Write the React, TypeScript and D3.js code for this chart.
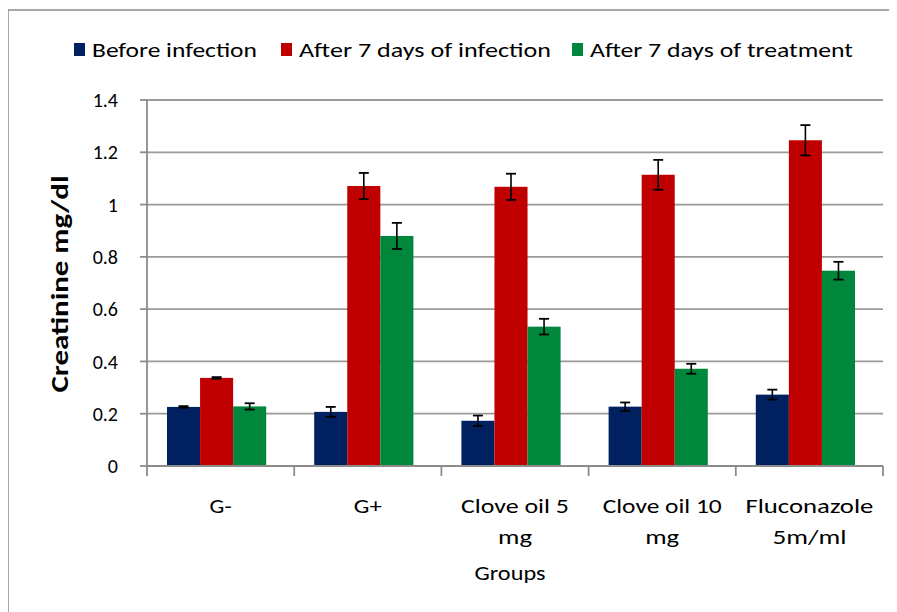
import React, { useEffect, useRef } from 'react';
import * as d3 from 'd3';

const groups = ['G-', 'G+', 'Clove oil 5 mg', 'Clove oil 10 mg', 'Fluconazole 5m/ml'];
const groupLines = [['G-'], ['G+'], ['Clove oil 5', 'mg'], ['Clove oil 10', 'mg'], ['Fluconazole', '5m/ml']];
const seriesNames = ['Before infection', 'After 7 days of infection', 'After 7 days of treatment'];
const seriesColors = ['#002060', '#C00000', '#00873C'];

const beforeVals = [0.226, 0.207, 0.173, 0.227, 0.273];
const beforeErr = [0.003, 0.019, 0.02, 0.016, 0.019];
const infectVals = [0.337, 1.071, 1.068, 1.114, 1.246];
const infectErr = [0.003, 0.05, 0.05, 0.057, 0.058];
const treatVals = [0.228, 0.88, 0.533, 0.372, 0.747];
const treatErr = [0.012, 0.05, 0.03, 0.019, 0.034];

const yTicks = [0, 0.2, 0.4, 0.6, 0.8, 1, 1.2, 1.4];

// measured text widths in the picture (its font is a wide, blurry Calibri)
const labelWidths: Record<string, number> = {
  'G-': 22, 'G+': 28, 'Clove oil 5': 108, 'Clove oil 10': 119, 'Fluconazole': 128,
  'mg': 34, '5m/ml': 74,
};
const legendWidths = [165, 252, 263];
const legendX = [74, 281, 572];

const FONT = "Carlito, 'Liberation Sans Narrow', 'Open Sans', sans-serif";

export default function App() {
  const svgRef = useRef<SVGSVGElement>(null);

  useEffect(() => {
    if (!svgRef.current) return;
    const svg = d3.select(svgRef.current);
    svg.selectAll('*').remove();

    const W = 897, H = 612;
    const margin = { top: 100, right: 14, bottom: 146, left: 147 };
    const innerW = W - margin.left - margin.right;
    const innerH = H - margin.top - margin.bottom;

    svg.append('rect').attr('width', W).attr('height', H).attr('fill', '#fff');
    // outer frame
    svg.append('path').attr('d', `M8,${H} L8,10 L${W},10`)
      .attr('fill', 'none').attr('stroke', '#8c8c8c').attr('stroke-width', 1.5);

    const x = d3.scaleBand().domain(groups).range([0, innerW]).paddingInner(0).paddingOuter(0);
    const inner = d3.scaleBand().domain(seriesNames).range([20, x.bandwidth() - 28]);
    const y = d3.scaleLinear().domain([0, 1.4]).range([innerH, 0]);

    const g = svg.append('g').attr('transform', `translate(${margin.left},${margin.top})`);

    // gridlines
    g.append('g').selectAll('line').data(yTicks.slice(1)).join('line')
      .attr('x1', 0).attr('x2', innerW)
      .attr('y1', d => y(d)).attr('y2', d => y(d))
      .attr('stroke', '#9a9a9a').attr('stroke-width', 1.8);

    const series = [
      { vals: beforeVals, err: beforeErr },
      { vals: infectVals, err: infectErr },
      { vals: treatVals, err: treatErr },
    ];

    series.forEach((s, si) => {
      const sg = g.append('g');
      const data = groups.map((grp, i) => ({ grp, v: s.vals[i], e: s.err[i] }));
      sg.selectAll('rect').data(data).join('rect')
        .attr('x', d => x(d.grp)! + inner(seriesNames[si])!)
        .attr('width', inner.bandwidth())
        .attr('y', d => y(d.v))
        .attr('height', d => innerH - y(d.v))
        .attr('fill', seriesColors[si]);
      const eb = sg.selectAll('g.eb').data(data).join('g').attr('class', 'eb')
        .attr('transform', d => `translate(${x(d.grp)! + inner(seriesNames[si])! + inner.bandwidth() / 2},0)`);
      eb.append('line').attr('x1', 0).attr('x2', 0)
        .attr('y1', d => y(d.v + d.e)).attr('y2', d => y(d.v - d.e))
        .attr('stroke', '#000').attr('stroke-width', 1.6);
      [1, -1].forEach(sign => {
        eb.append('line').attr('x1', -5).attr('x2', 5)
          .attr('y1', d => y(d.v + sign * d.e)).attr('y2', d => y(d.v + sign * d.e))
          .attr('stroke', '#000').attr('stroke-width', 1.8);
      });
    });

    // axes lines
    const axisColor = '#8c8c8c';
    g.append('line').attr('x1', 0).attr('x2', 0).attr('y1', 0).attr('y2', innerH)
      .attr('stroke', axisColor).attr('stroke-width', 1.8);
    g.append('line').attr('x1', 0).attr('x2', innerW).attr('y1', innerH).attr('y2', innerH)
      .attr('stroke', axisColor).attr('stroke-width', 2);
    // x ticks at band boundaries
    const bounds = groups.map(grp => x(grp)!).concat([innerW]);
    g.append('g').selectAll('line').data(bounds).join('line')
      .attr('x1', d => d).attr('x2', d => d).attr('y1', innerH).attr('y2', innerH + 10)
      .attr('stroke', axisColor).attr('stroke-width', 1.8);
    // y ticks
    g.append('g').selectAll('line').data(yTicks).join('line')
      .attr('x1', -7).attr('x2', 0).attr('y1', d => y(d)).attr('y2', d => y(d))
      .attr('stroke', axisColor).attr('stroke-width', 1.8);
    g.append('g').selectAll('text').data(yTicks).join('text')
      .attr('x', -29).attr('y', d => y(d)).attr('dy', '0.36em')
      .attr('text-anchor', 'end')
      .attr('font-family', FONT).attr('font-size', 20).attr('fill', '#000')
      .text(d => (d === 0 || d === 1 ? String(d) : d.toFixed(1)));

    // x labels
    groups.forEach((grp, i) => {
      const cx = x(grp)! + x.bandwidth() / 2;
      groupLines[i].forEach((ln, li) => {
        g.append('text')
          .attr('x', cx).attr('y', innerH + 47 + li * 31)
          .attr('text-anchor', 'middle')
          .attr('font-family', FONT).attr('font-size', 20).attr('fill', '#000')
          .attr('textLength', labelWidths[ln]).attr('lengthAdjust', 'spacingAndGlyphs')
          .text(ln);
      });
    });

    // axis titles
    svg.append('text').attr('x', 510).attr('y', 580).attr('text-anchor', 'middle')
      .attr('font-family', FONT).attr('font-size', 20).attr('fill', '#000')
      .attr('textLength', 71).attr('lengthAdjust', 'spacingAndGlyphs')
      .text('Groups');
    svg.append('text')
      .attr('transform', `translate(68,${284}) rotate(-90)`)
      .attr('text-anchor', 'middle')
      .attr('font-family', FONT).attr('font-size', 25).attr('font-weight', 'bold').attr('fill', '#000')
      .attr('textLength', 217).attr('lengthAdjust', 'spacingAndGlyphs')
      .text('Creatinine mg/dl');

    // legend
    const lg = svg.append('g');
    seriesNames.forEach((name, i) => {
      lg.append('rect').attr('x', legendX[i]).attr('y', 43).attr('width', 11).attr('height', 13)
        .attr('fill', seriesColors[i]);
      lg.append('text').attr('x', legendX[i] + 18).attr('y', 57)
        .attr('font-family', FONT).attr('font-size', 20).attr('fill', '#000')
        .attr('textLength', legendWidths[i]).attr('lengthAdjust', 'spacingAndGlyphs')
        .text(name);
    });
  }, []);

  return (
    <div style={{ width: 897, height: 612 }}>
      <svg ref={svgRef} width={897} height={612} style={{ display: 'block', marginLeft: -8, marginTop: -8 }} />
    </div>
  );
}
